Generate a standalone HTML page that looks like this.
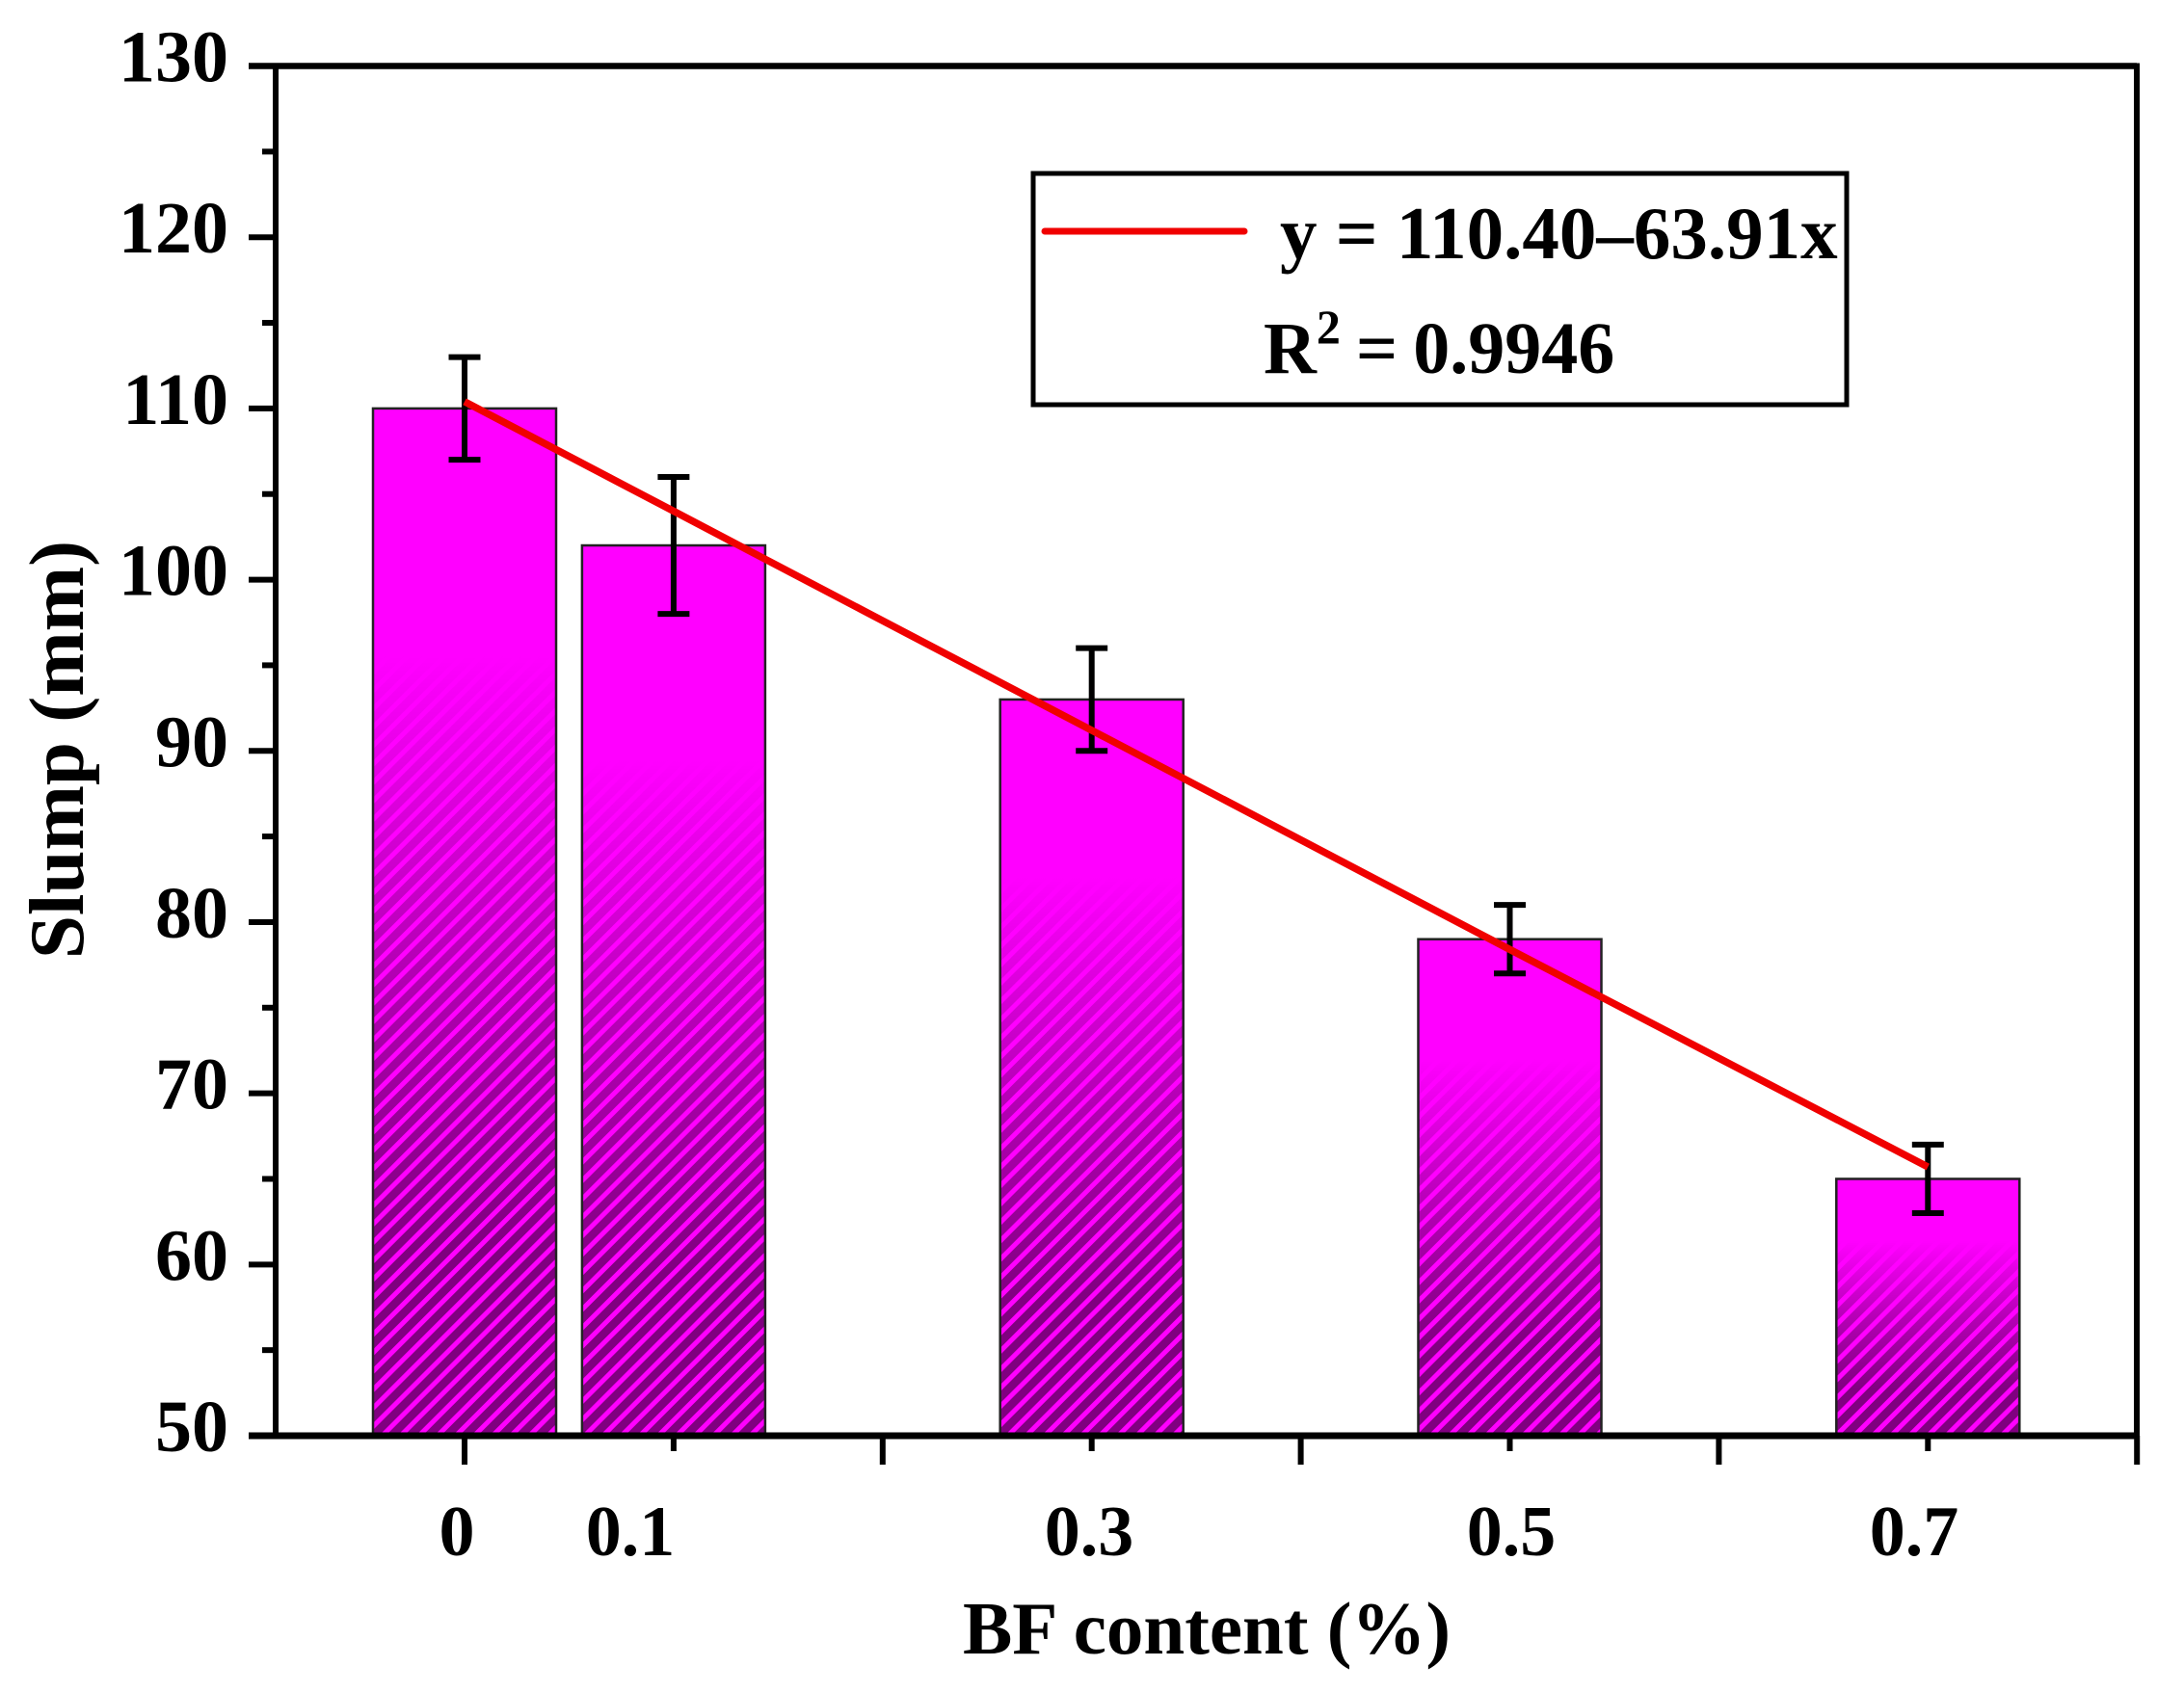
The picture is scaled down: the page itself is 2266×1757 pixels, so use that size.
<!DOCTYPE html>
<html lang="en">
<head>
<meta charset="utf-8">
<title>Slump vs BF content</title>
<style>
html,body{margin:0;padding:0;background:#fff;width:2266px;height:1757px;overflow:hidden}
svg{display:block}
text{font-family:"Liberation Serif",serif;font-weight:bold;fill:#000}
</style>
</head>
<body>
<svg id="chart" xmlns="http://www.w3.org/2000/svg" width="2266" height="1757" viewBox="0 0 2266 1757">
  <defs>
    <pattern id="hatch" patternUnits="userSpaceOnUse" width="13.5" height="13.5" patternTransform="rotate(-45)">
      <rect x="0" y="0" width="13.5" height="8.5" fill="#800080"/>
    </pattern>
    <linearGradient id="hatch-fade" x1="0" y1="0" x2="0" y2="1">
      <stop offset="0.24" stop-color="#fff" stop-opacity="0"/>
      <stop offset="0.55" stop-color="#fff" stop-opacity="0.6"/>
      <stop offset="0.82" stop-color="#fff" stop-opacity="1"/>
    </linearGradient>
    <mask id="hatch-mask" maskContentUnits="objectBoundingBox">
      <rect x="0" y="0" width="1" height="1" fill="url(#hatch-fade)"/>
    </mask>
  </defs>
  <rect x="0" y="0" width="2266" height="1757" fill="#fff"/>
  <g id="bars"></g>
  <g id="errors"></g>
  <g id="axes"></g>
  <g id="fit"></g>

  <g font-size="74" text-anchor="middle">
    <text x="474" y="1614">0</text>
    <text x="654" y="1614">0.1</text>
    <text x="1130" y="1614">0.3</text>
    <text x="1568" y="1614">0.5</text>
    <text x="1986" y="1614">0.7</text>
  </g>
  <text x="1252" y="1716" font-size="77" text-anchor="middle">BF content (%)</text>
  <text transform="translate(86,778) rotate(-90)" font-size="81" text-anchor="middle">Slump (mm)</text>

  <g>
    <rect x="1072" y="180" width="844" height="240" fill="#fff" stroke="#000" stroke-width="5"/>
    <line x1="1084" y1="240" x2="1291" y2="240" stroke="#f00000" stroke-width="7" stroke-linecap="round"/>
    <text x="1328" y="268" font-size="77">y = 110.40–63.91x</text>
    <text x="1311" y="387" font-size="76" word-spacing="-3">R<tspan font-size="50" dy="-31">2</tspan><tspan dy="31"> = 0.9946</tspan></text>
  </g>
</svg>
<script>
// Chart data
var categories = [0, 0.1, 0.3, 0.5, 0.7];
var slumpValues = [110, 102, 93, 79, 65];
var errorValues = [3, 4, 3, 2, 2];
var fitX = [0, 0.1, 0.3, 0.5, 0.7];
var fitY = [110.4, 104, 91.2, 78.4, 65.7];
var yTickLabels = [50, 60, 70, 80, 90, 100, 110, 120, 130];
var xMajorTicks = [0, 0.2, 0.4, 0.6, 0.8];
var xMinorTicks = [0.1, 0.3, 0.5, 0.7];

var NS = 'http://www.w3.org/2000/svg';
var plotLeft = 286, plotRight = 2217, plotTop = 68.5, plotBottom = 1490;
var yMin = 50, yMax = 130;
var xOrigin = 482, xPerUnit = 2169;
var barHalfWidth = 0.0438;
var capHalf = 0.0076;

function xScale(v) { return xOrigin + v * xPerUnit; }
function yScale(v) { return plotBottom - (v - yMin) * (plotBottom - plotTop) / (yMax - yMin); }

function make(tag, parent) {
  var el = document.createElementNS(NS, tag);
  parent.appendChild(el);
  return el;
}
function line(parent, x1, y1, x2, y2, color, width) {
  var el = make('line', parent);
  el.setAttribute('x1', x1);
  el.setAttribute('y1', y1);
  el.setAttribute('x2', x2);
  el.setAttribute('y2', y2);
  el.setAttribute('stroke', color);
  el.setAttribute('stroke-width', width);
  return el;
}

var barsG = document.getElementById('bars');
var errorsG = document.getElementById('errors');
var axesG = document.getElementById('axes');
var fitG = document.getElementById('fit');

categories.forEach(function (c, i) {
  var x0 = xScale(c - barHalfWidth);
  var x1 = xScale(c + barHalfWidth);
  var top = yScale(slumpValues[i]);
  var bar = make('rect', barsG);
  
  
  bar.setAttribute('x', x0);
  bar.setAttribute('y', top);
  bar.setAttribute('width', x1 - x0);
  bar.setAttribute('height', plotBottom - top);
  bar.setAttribute('fill', '#ff00ff');
  var hatch = make('rect', barsG);
  
  
  hatch.setAttribute('x', x0);
  hatch.setAttribute('y', top);
  hatch.setAttribute('width', x1 - x0);
  hatch.setAttribute('height', plotBottom - top);
  hatch.setAttribute('fill', 'url(#hatch)');
  hatch.setAttribute('mask', 'url(#hatch-mask)');
  var outline = make('rect', barsG);
  
  
  outline.setAttribute('x', x0);
  outline.setAttribute('y', top);
  outline.setAttribute('width', x1 - x0);
  outline.setAttribute('height', plotBottom - top);
  outline.setAttribute('fill', 'none');
  outline.setAttribute('stroke', '#222');
  outline.setAttribute('stroke-width', '2.5');

  var xc = xScale(c);
  var hi = yScale(slumpValues[i] + errorValues[i]);
  var lo = yScale(slumpValues[i] - errorValues[i]);
  var stem = line(errorsG, xc, hi, xc, lo, '#000', 6);
  
  
  var capHi = line(errorsG, xScale(c - capHalf), hi, xScale(c + capHalf), hi, '#000', 6);
  
  
  var capLo = line(errorsG, xScale(c - capHalf), lo, xScale(c + capHalf), lo, '#000', 6);
  
  
});

// Axes frame
var frameTop = line(axesG, 258, plotTop, plotRight, plotTop, '#000', 6.5);


var frameBottom = line(axesG, 258, plotBottom, plotRight + 3, plotBottom, '#000', 7);


var frameLeft = line(axesG, plotLeft, plotTop - 3, plotLeft, plotBottom, '#000', 6);


var frameRight = line(axesG, plotRight, plotTop - 3, plotRight, plotBottom, '#000', 6);



// Y ticks and labels
yTickLabels.forEach(function (v, i) {
  var y = yScale(v);
  var t = line(axesG, 258, y, plotLeft, y, '#000', 6);
  
  
  var label = make('text', axesG);
  
  
  label.setAttribute('x', 237);
  label.setAttribute('y', y + 16);
  label.setAttribute('font-size', '76');
  label.setAttribute('text-anchor', 'end');
  label.textContent = v;
  if (i < yTickLabels.length - 1) {
    var my = yScale((v + yTickLabels[i + 1]) / 2);
    var m = line(axesG, 272, my, plotLeft, my, '#000', 6);
    
    
  }
});

// X ticks
xMajorTicks.forEach(function (v) {
  var t = line(axesG, xScale(v), plotBottom, xScale(v), plotBottom + 30, '#000', 6);
  
  
});
xMinorTicks.forEach(function (v) {
  var t = line(axesG, xScale(v), plotBottom, xScale(v), plotBottom + 16, '#000', 6);
  
  
});

// Fit line
var fitLine = make('polyline', fitG);


fitLine.setAttribute('points', fitX.map(function (x, i) { return xScale(x) + ',' + yScale(fitY[i]); }).join(' '));
fitLine.setAttribute('fill', 'none');
fitLine.setAttribute('stroke', '#f00000');
fitLine.setAttribute('stroke-width', '7.5');
</script>
</body>
</html>
